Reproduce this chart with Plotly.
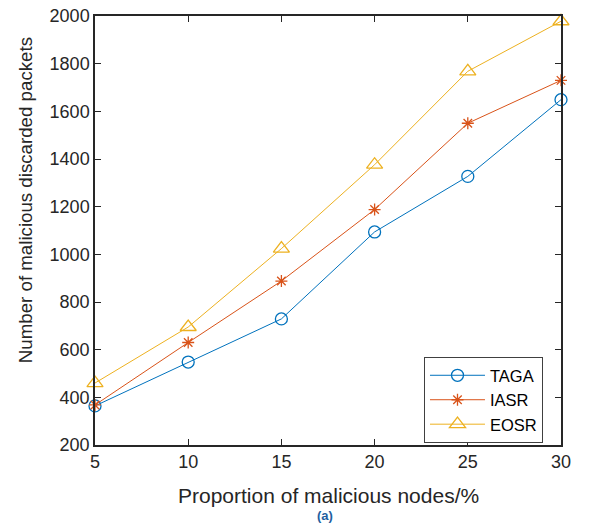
import plotly.graph_objects as go

x_vals = [5, 10, 15, 20, 25, 30]
taga = [364, 548, 729, 1094, 1327, 1649]
iasr = [368, 630, 888, 1188, 1550, 1730]
eosr = [460, 695, 1024, 1376, 1768, 1978]
series_names = ["TAGA", "IASR", "EOSR"]
x_ticks = [5, 10, 15, 20, 25, 30]
y_ticks = [200, 400, 600, 800, 1000, 1200, 1400, 1600, 1800, 2000]

colors = ["#0072BD", "#D95319", "#EDB120"]
symbols = ["circle-open", "asterisk-open", "triangle-up-open"]
sizes = [12, 10, 14]

fig = go.Figure()
for name, ys, c, s, sz in zip(series_names, [taga, iasr, eosr], colors, symbols, sizes):
    fig.add_trace(go.Scatter(
        x=x_vals, y=ys, name=name, mode="lines+markers", cliponaxis=False,
        line=dict(color=c, width=1),
        marker=dict(symbol=s, size=sz, color=c, line=dict(color=c, width=1.3)),
    ))

axis_common = dict(
    showgrid=False, zeroline=False, showline=True, linecolor="#262626", linewidth=1.5,
    mirror="ticks", ticks="inside", ticklen=6, tickwidth=1.2, tickcolor="#262626",
    ticklabeloverflow="allow",
    tickfont=dict(family="Liberation Sans, Arial", size=18, color="#262626"),
)

fig.update_layout(
    width=598, height=523,
    margin=dict(l=95, r=37, t=16, b=78, autoexpand=False),
    paper_bgcolor="white", plot_bgcolor="white",
    font=dict(family="Liberation Sans, Arial", color="#262626"),
    xaxis=dict(range=[5, 30], tickvals=x_ticks, **axis_common),
    yaxis=dict(range=[200, 2000], tickvals=y_ticks, **axis_common),
    legend=dict(
        x=0.706, y=0.205, xanchor="left", yanchor="top",
        bgcolor="white", bordercolor="#404040", borderwidth=1,
        font=dict(family="Liberation Sans, Arial", size=16.5, color="#000000"),
        itemwidth=55, tracegroupgap=0,
    ),
    showlegend=True,
    annotations=[
        dict(text="Number of malicious discarded packets", xref="paper", yref="paper",
             x=-0.150, y=0.571, textangle=-90, showarrow=False,
             font=dict(size=18.7, color="#262626"), xanchor="center", yanchor="middle"),
        dict(text="Proportion of malicious nodes/%", xref="paper", yref="paper",
             x=0.5, y=-0.1166, showarrow=False,
             font=dict(size=21, color="#262626"), xanchor="center", yanchor="middle"),
        dict(text="<b>(a)</b>", xref="paper", yref="paper",
             x=0.4935, y=-0.1632, showarrow=False,
             font=dict(size=13, color="#1f5f9f"), xanchor="center", yanchor="middle"),
    ],
)

fig.write_html(
    "out.html",
    config={"displayModeBar": False},
    post_script="document.body.style.margin='0';document.body.style.padding='0';document.body.style.overflow='hidden';",
)
